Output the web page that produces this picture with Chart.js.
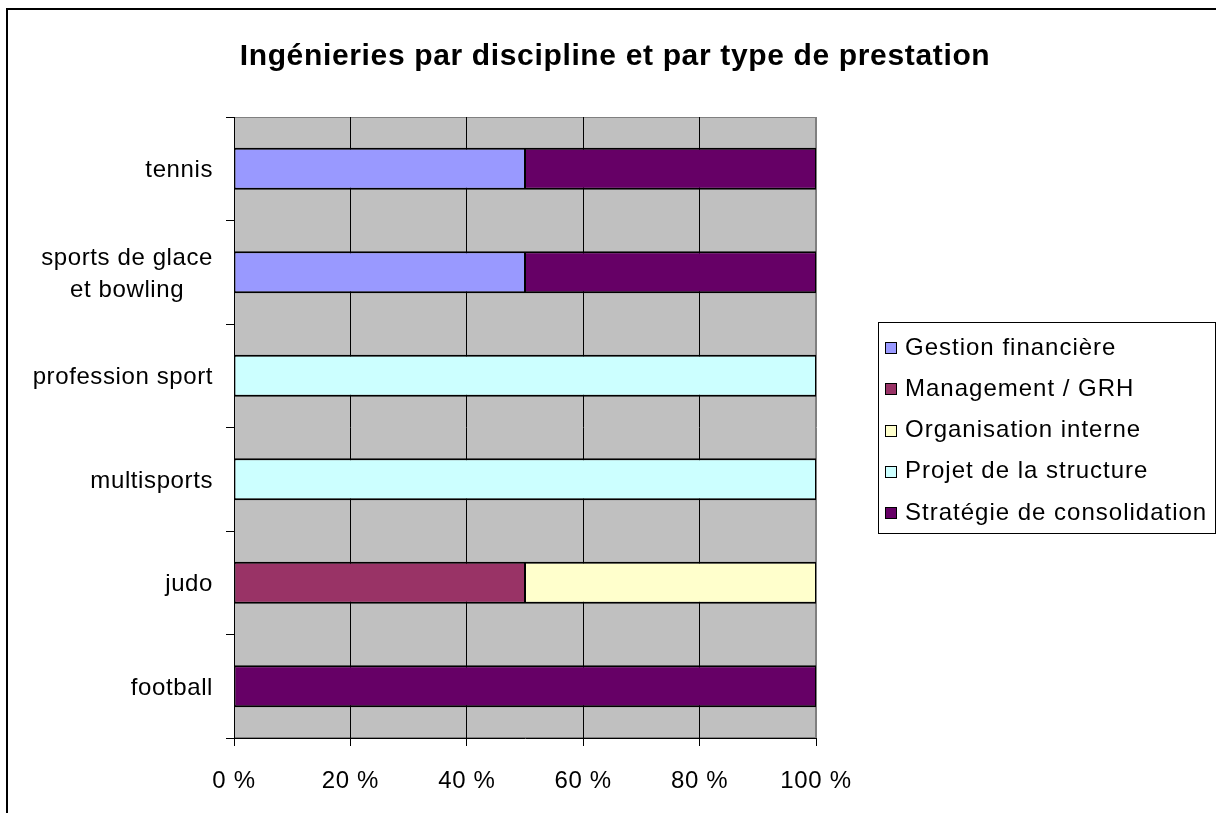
<!DOCTYPE html>
<html>
<head>
<meta charset="utf-8">
<script src="https://cdn.jsdelivr.net/npm/chart.js@4/dist/chart.umd.min.js"></script>
<style>
    html, body { margin: 0; padding: 0; overflow: hidden; background: #fff; }
    #frame { position: absolute; left: 6px; top: 8px; border-left: 2px solid #000; border-top: 2px solid #000; }
    canvas { display: block; }
</style>
</head>
<body>
<div id="frame"><canvas id="chart" width="1214" height="803"></canvas></div>
<script>
const disciplines = ['tennis', ['sports de glace', 'et bowling'], 'profession sport', 'multisports', 'judo', 'football'];

const gestionFinanciere      = [50, 50, null, null, null, null];
const managementGrh          = [null, null, null, null, 50, null];
const organisationInterne    = [null, null, null, null, 50, null];
const projetStructure        = [null, null, 100, 100, null, null];
const strategieConsolidation = [50, 50, null, null, null, 100];

const percentTicks = [0, 20, 40, 60, 80, 100];

const FONT = '"Liberation Sans", Arial, sans-serif';

// gray plot background + gray top/right frame, like the old Excel look
const plotBackground = {
    id: 'plotBackground',
    beforeDraw(chart) {
        const { ctx, chartArea: a } = chart;
        ctx.letterSpacing = '0.65px';
        ctx.save();
        ctx.fillStyle = '#C0C0C0';
        ctx.fillRect(a.left, a.top, a.width, a.height);
        ctx.strokeStyle = '#808080';
        ctx.lineWidth = 1;
        ctx.strokeRect(a.left + 0.5, a.top + 0.5, a.width - 1, a.height - 1);
        ctx.restore();
    }
};

// category labels: single lines right aligned, two-line label centred as a block
const categoryLabels = {
    id: 'categoryLabels',
    afterDraw(chart) {
        const scale = chart.scales.y;
        const ctx = chart.ctx;
        ctx.save();
        ctx.font = '24px ' + FONT;
        ctx.letterSpacing = '0.6px';
        ctx.fillStyle = '#000';
        ctx.textAlign = 'center';
        ctx.textBaseline = 'middle';
        const right = scale.right - 21;
        scale.ticks.forEach((tick, i) => {
            const label = chart.data.labels[i];
            const lines = Array.isArray(label) ? label : [label];
            const w = Math.max(...lines.map(l => ctx.measureText(l).width));
            const y = scale.getPixelForTick(i) + 2;
            lines.forEach((line, j) => {
                ctx.fillText(line, right - w / 2, y + (j - (lines.length - 1) / 2) * 32.7);
            });
        });
        ctx.restore();
    }
};

// boxed legend on the right
const legendBox = {
    id: 'legendBox',
    afterDraw(chart) {
        const ctx = chart.ctx;
        ctx.save();
        ctx.strokeStyle = '#000';
        ctx.lineWidth = 1;
        ctx.strokeRect(870.5, 312.5, 337, 211);
        ctx.font = '24px ' + FONT;
        ctx.letterSpacing = '1px';
        ctx.textBaseline = 'middle';
        ctx.textAlign = 'left';
        chart.data.datasets.forEach((ds, i) => {
            const y = 338 + i * 41.25;
            const top = Math.round(y - 6);
            ctx.fillStyle = ds.backgroundColor;
            ctx.fillRect(877, top, 12, 12);
            ctx.strokeRect(877.5, top + 0.5, 11, 11);
            ctx.fillStyle = '#000';
            ctx.fillText(ds.label, 897, y);
        });
        ctx.restore();
    }
};

const barStyle = {
    borderColor: '#000',
    borderWidth: { top: 2, bottom: 2, left: 1, right: 1 },
    borderSkipped: false,
    barPercentage: 0.405,
    categoryPercentage: 1.0
};

new Chart(document.getElementById('chart'), {
    type: 'bar',
    data: {
        labels: disciplines,
        datasets: [
            { label: 'Gestion financière', data: gestionFinanciere, backgroundColor: '#9999FF', ...barStyle },
            { label: 'Management / GRH', data: managementGrh, backgroundColor: '#993366', ...barStyle },
            { label: 'Organisation interne', data: organisationInterne, backgroundColor: '#FFFFCC', ...barStyle },
            { label: 'Projet de la structure', data: projetStructure, backgroundColor: '#CCFFFF', ...barStyle },
            { label: 'Stratégie de consolidation', data: strategieConsolidation, backgroundColor: '#660066', ...barStyle }
        ]
    },
    options: {
        responsive: false,
        animation: false,
        indexAxis: 'y',
        layout: { padding: 0 },
        plugins: {
            legend: { display: false },
            tooltip: { enabled: false },
            title: {
                display: true,
                text: 'Ingénieries par discipline et par type de prestation',
                color: '#000',
                font: { family: FONT, size: 30, weight: 'bold', lineHeight: 1.2 },
                padding: { top: 29, bottom: 42 }
            }
        },
        scales: {
            x: {
                stacked: true,
                min: percentTicks[0],
                max: percentTicks[percentTicks.length - 1],
                ticks: {
                    stepSize: percentTicks[1] - percentTicks[0],
                    callback: v => v + ' %',
                    color: '#000',
                    font: { family: FONT, size: 24 },
                    padding: 21,
                    maxRotation: 0
                },
                grid: {
                    color: c => (c.tick && c.tick.value === 100) ? '#808080' : '#000',
                    tickColor: '#000',
                    tickLength: 8,
                    lineWidth: 1
                },
                border: { color: '#000', width: 1 },
                afterFit: s => { s.height = 75; }
            },
            y: {
                stacked: true,
                ticks: { display: false },
                grid: { drawOnChartArea: false, drawTicks: true, tickLength: 8, color: '#000' },
                border: { color: '#000', width: 1 },
                afterFit: s => { s.width = 226; }
            },
            // empty box that keeps room for the legend on the right
            legendSpace: {
                type: 'linear',
                axis: 'y',
                position: 'right',
                display: true,
                ticks: { display: false },
                grid: { display: false },
                border: { display: false },
                afterFit: s => { s.width = 406; }
            }
        }
    },
    plugins: [plotBackground, categoryLabels, legendBox]
});
</script>
</body>
</html>
